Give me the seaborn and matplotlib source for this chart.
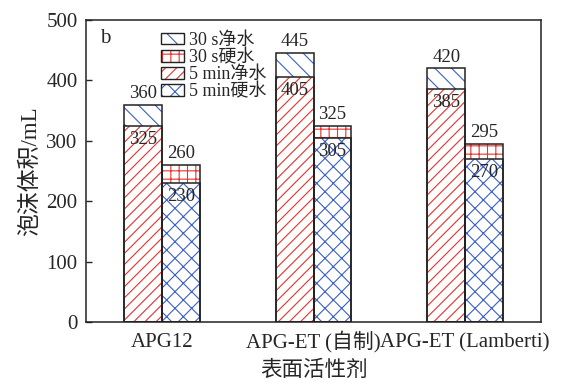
import matplotlib
matplotlib.use('Agg')
import matplotlib.pyplot as plt
from matplotlib.patches import Patch, Rectangle
from matplotlib.legend_handler import HandlerTuple
import pandas as pd
import seaborn as sns

# data
surfactants = ['APG12', 'APG-ET (自制)', 'APG-ET (Lamberti)']
foam_30s_pure = [360, 445, 420]
foam_30s_hard = [260, 325, 295]
foam_5min_pure = [325, 405, 385]
foam_5min_hard = [230, 305, 270]
y_ticks = [0, 100, 200, 300, 400, 500]

RED = '#e8322e'
BLUE = '#3a5fc8'
EDGE = '#222222'

sns.set_style('white')
plt.rcParams['font.family'] = ['Liberation Serif', 'Noto Sans CJK SC']
plt.rcParams['hatch.linewidth'] = 0.8

df = pd.DataFrame({
    'surf': surfactants * 2,
    'water': ['净水'] * 3 + ['硬水'] * 3,
    't30': foam_30s_pure + foam_30s_hard,
    't5': foam_5min_pure + foam_5min_hard,
})

fig = plt.figure(figsize=(5.64, 3.83), dpi=100)
ax = fig.add_axes([86 / 564, 1 - 322 / 383, 455 / 564, 302 / 383])

# 30 s bars (full height) first, 5 min bars drawn over their lower part
n0 = len(ax.patches)
sns.barplot(data=df, x='surf', y='t30', hue='water', hue_order=['净水', '硬水'],
            width=0.5, gap=0, legend=False, ax=ax, errorbar=None)
top_bars = ax.patches[n0:]
n1 = len(ax.patches)
sns.barplot(data=df, x='surf', y='t5', hue='water', hue_order=['净水', '硬水'],
            width=0.5, gap=0, legend=False, ax=ax, errorbar=None)
low_bars = ax.patches[n1:]


def is_left(p):
    c = p.get_x() + p.get_width() / 2
    return c < round(c)


HATCH = {
    ('top', True): (BLUE, '\\\\'),
    ('top', False): (RED, '++'),
    ('low', True): (RED, '///'),
    ('low', False): (BLUE, 'xx'),
}

outline = []
for key, bars in (('top', top_bars), ('low', low_bars)):
    for p in bars:
        color, hatch = HATCH[(key, is_left(p))]
        p.set(facecolor='white', edgecolor=color, hatch=hatch, linewidth=0)
        outline.append(p)

for p in outline:
    ax.add_patch(Rectangle(p.get_xy(), p.get_width(), p.get_height(),
                           fill=False, edgecolor=EDGE, linewidth=1.1, zorder=3))

# value labels
for p in top_bars:
    cx = p.get_x() + p.get_width() / 2
    ax.annotate(f'{p.get_height():.0f}', (cx, p.get_height()), xytext=(0, 2),
                textcoords='offset points', ha='center', va='bottom', fontsize=13.5, zorder=5)
for p in low_bars:
    cx = p.get_x() + p.get_width() / 2
    ax.annotate(f'{p.get_height():.0f}', (cx, p.get_height()), xytext=(0, -3.5),
                textcoords='offset points', ha='center', va='top', fontsize=13.5, zorder=5)

ax.set_xlim(-0.5, 2.5)
ax.set_ylim(0, 500)
ax.set_yticks(y_ticks)
ax.tick_params(axis='y', direction='in', length=4.5, width=1, left=True, pad=6, labelsize=15)
ax.tick_params(axis='x', length=0, pad=18, labelsize=15)
for t in ax.get_xticklabels():
    t.set_va('baseline')
ax.set_xlabel('表面活性剂', fontsize=15.5, labelpad=6)
ax.set_ylabel('泡沫体积/mL', fontsize=16.5, labelpad=4)
for s in ax.spines.values():
    s.set_color(EDGE)
    s.set_linewidth(1.1)

ax.text(0.03, 0.94, 'b', transform=ax.transAxes, fontsize=15, va='center', ha='left')

legend_specs = [(BLUE, '\\\\'), (RED, '++'), (RED, '///'), (BLUE, 'xx')]
handles = [
    (Patch(facecolor='white', edgecolor=c, hatch=h, linewidth=0),
     Patch(fill=False, edgecolor=EDGE, linewidth=1))
    for c, h in legend_specs
]
labels = ['30 s净水', '30 s硬水', '5 min净水', '5 min硬水']
ax.legend(handles, labels, handler_map={tuple: HandlerTuple(ndivide=1, pad=0)},
          loc='upper left', bbox_to_anchor=(0.165, 0.96), frameon=False,
          fontsize=13, handlelength=1.25, handleheight=0.6, handletextpad=0.3,
          labelspacing=0.0, borderpad=0, borderaxespad=0)

fig.savefig('out.png', dpi=100)
